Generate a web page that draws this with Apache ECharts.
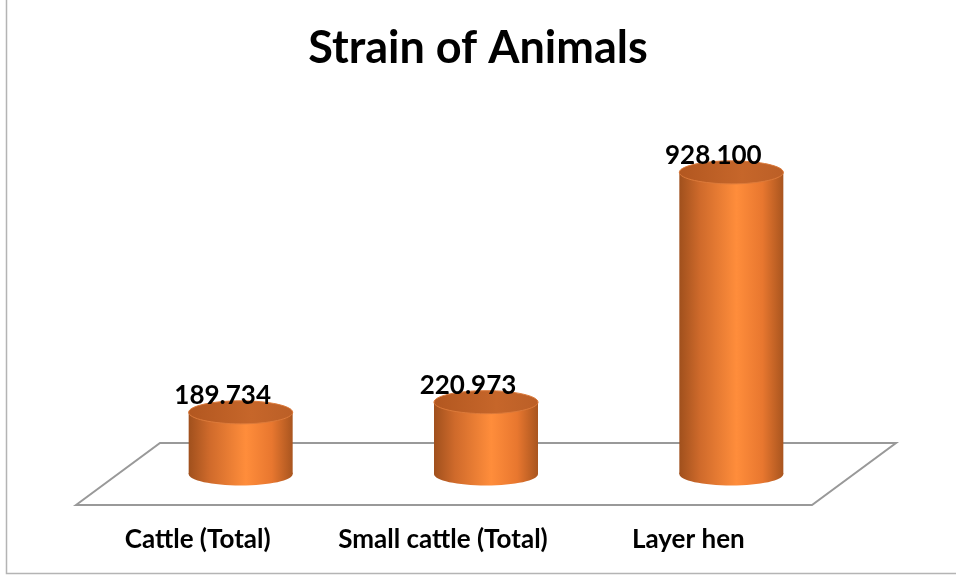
<!DOCTYPE html>
<html>
<head>
<meta charset="utf-8">
<script src="https://cdn.jsdelivr.net/npm/echarts@6/dist/echarts.min.js"></script>
<style>
html,body{margin:0;padding:0;background:#fff;}
#main{width:956px;height:575px;}
</style>
</head>
<body>
<div id="main"></div>
<script>
var titleText = 'Strain of Animals';
var categories = ['Cattle (Total)', 'Small cattle (Total)', 'Layer hen'];
var values = [189.734, 220.973, 928.100];

var FONT = 'Lato, "Open Sans", sans-serif';
var DEPTH_X = 42, DEPTH_Y = 31;   // floor perspective half-offsets
var RX = 52, RY = 11.5;           // cylinder ellipse radii

var chart = echarts.init(document.getElementById('main'), null, {renderer: 'canvas'});

function bodyGrad() {
  return new echarts.graphic.LinearGradient(0, 0, 1, 0, [
    {offset: 0, color: '#a0501d'},
    {offset: 0.2, color: '#cf6a2b'},
    {offset: 0.55, color: '#ff8d3b'},
    {offset: 0.8, color: '#e8772f'},
    {offset: 1, color: '#a9551f'}
  ]);
}
function topGrad() {
  return new echarts.graphic.LinearGradient(0, 0, 1, 0, [
    {offset: 0, color: '#b25720'},
    {offset: 0.6, color: '#c6662a'},
    {offset: 1, color: '#bb5f27'}
  ]);
}

var option = {
  animation: false,
  backgroundColor: '#ffffff',
  title: {
    text: titleText,
    left: 'center',
    top: 21,
    textStyle: {fontFamily: FONT, fontWeight: 'bold', fontSize: 45, color: '#000'}
  },
  grid: {left: 118, right: 102, top: 149, bottom: 101, containLabel: false},
  xAxis: {
    type: 'category',
    data: categories,
    axisLine: {show: false},
    axisTick: {show: false},
    splitLine: {show: false},
    axisLabel: {
      interval: 0,
      hideOverlap: false,
      margin: 53,
      fontFamily: FONT,
      fontWeight: 'bold',
      fontSize: 26,
      color: '#000',
      padding: [0, 86, 0, 0]
    }
  },
  yAxis: {
    type: 'value',
    min: 0,
    max: 1000,
    show: false
  },
  graphic: [{
    type: 'rect',
    shape: {x: 6.5, y: -10, width: 1000, height: 583.5},
    style: {fill: 'none', stroke: '#b4b4b4', lineWidth: 1.5},
    silent: true
  }],
  series: [
    {
      type: 'custom',
      z: 1,
      data: [0],
      renderItem: function (params, api) {
        var cs = params.coordSys;
        var y0 = api.coord([0, 0])[1];
        var L = cs.x, R = cs.x + cs.width;
        return {
          type: 'polygon',
          shape: {points: [
            [L - DEPTH_X, y0 + DEPTH_Y],
            [L + DEPTH_X, y0 - DEPTH_Y],
            [R + DEPTH_X, y0 - DEPTH_Y],
            [R - DEPTH_X, y0 + DEPTH_Y]
          ]},
          style: {fill: '#ffffff', stroke: '#999999', lineWidth: 2}
        };
      }
    },
    {
      type: 'custom',
      z: 2,
      data: values.map(function (v, i) { return [i, v]; }),
      encode: {x: 0, y: 1},
      renderItem: function (params, api) {
        var base = api.coord([api.value(0), 0]);
        var top = api.coord([api.value(0), api.value(1)]);
        var cx = base[0];
        return {
          type: 'group',
          children: [
            {type: 'ellipse', shape: {cx: cx, cy: base[1], rx: RX, ry: RY}, style: {fill: bodyGrad()}},
            {type: 'rect', shape: {x: cx - RX, y: top[1], width: RX * 2, height: base[1] - top[1]}, style: {fill: bodyGrad()}},
            {type: 'ellipse', shape: {cx: cx, cy: top[1], rx: RX, ry: RY}, style: {fill: topGrad(), stroke: '#dc7a3a', lineWidth: 1}},
            {type: 'text', x: cx - 18, y: top[1] - 17,
              style: {text: api.value(1).toFixed(3), fontFamily: FONT, fontWeight: 'bold', fontSize: 26,
                fill: '#000', align: 'center', verticalAlign: 'middle'}}
          ]
        };
      }
    }
  ]
};
chart.setOption(option);
</script>
</body>
</html>
